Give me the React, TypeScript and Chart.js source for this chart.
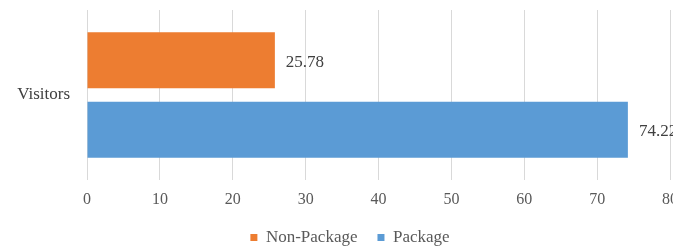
import React, { useEffect, useRef } from "react";
import { Chart, registerables } from "chart.js";

Chart.register(...registerables);

const categories = ["Visitors"];
const nonPackageValues = [25.78];
const packageValues = [74.22];
const seriesNames = ["Non-Package", "Package"];
const xMin = 0;
const xMax = 80;
const xStep = 10;

const FONT = "'Liberation Serif', 'Times New Roman', Times, serif";

const valueLabelPlugin = {
  id: "valueLabels",
  afterDatasetsDraw(chart: any) {
    const ctx = chart.ctx;
    ctx.save();
    ctx.font = "17px " + FONT;
    ctx.fillStyle = "#404040";
    ctx.textAlign = "left";
    ctx.textBaseline = "middle";
    chart.data.datasets.forEach((ds: any, di: number) => {
      const meta = chart.getDatasetMeta(di);
      meta.data.forEach((el: any, i: number) => {
        const v = ds.data[i];
        ctx.fillText(v.toFixed(2), el.x + 11, el.y + 2);
      });
    });
    ctx.restore();
  },
};

export default function App() {
  const ref = useRef<HTMLCanvasElement>(null);
  useEffect(() => {
    if (!ref.current) return;
    Chart.defaults.font.family = FONT;
    Chart.defaults.font.size = 16;
    Chart.defaults.color = "#595959";
    const chart = new Chart(ref.current, {
      type: "bar",
      data: {
        labels: categories,
        datasets: [
          {
            label: seriesNames[0],
            data: nonPackageValues,
            backgroundColor: "#ED7D31",
            categoryPercentage: 0.818,
            barPercentage: 0.806,
          },
          {
            label: seriesNames[1],
            data: packageValues,
            backgroundColor: "#5B9BD5",
            categoryPercentage: 0.818,
            barPercentage: 0.806,
          },
        ],
      },
      options: {
        indexAxis: "y",
        responsive: false,
        animation: false,
        layout: { padding: { top: 10, right: 0, left: 0, bottom: 0 } },
        scales: {
          x: {
            min: xMin,
            max: xMax,
            ticks: { stepSize: xStep, padding: 10, color: "#595959", font: { size: 16 } },
            grid: { color: "#d9d9d9", drawTicks: false },
            border: { display: false },
            afterFit: (s: any) => {
              s.height = 29;
              s.paddingRight = 30;
              s.paddingLeft = 0;
            },
          },
          y: {
            ticks: { padding: 17, color: "#404040", font: { size: 17 } },
            grid: { display: false, drawTicks: false },
            border: { display: false },
            afterFit: (s: any) => {
              s.width = 87;
              s.paddingTop = 0;
              s.paddingBottom = 0;
            },
          },
        },
        plugins: {
          legend: {
            position: "bottom",
            labels: { boxWidth: 7, boxHeight: 7, padding: 20, color: "#595959", font: { size: 17 } },
          },
          tooltip: { enabled: false },
        },
      },
      plugins: [valueLabelPlugin],
    });
    let alive = true;
    if ((document as any).fonts && (document as any).fonts.load) {
      (document as any).fonts
        .load("16px 'Liberation Serif'")
        .then(() => {
          if (alive) chart.update();
        })
        .catch(() => {});
    }
    return () => {
      alive = false;
      chart.destroy();
    };
  }, []);
  return (
    <div
      style={{
        position: "fixed",
        left: 0,
        top: 0,
        width: 673,
        height: 248,
        overflow: "hidden",
        background: "#fff",
      }}
    >
      <span style={{ fontFamily: FONT, position: "absolute", left: -9999, top: 0 }}>Visitors</span>
      <canvas ref={ref} width={700} height={256} style={{ width: 700, height: 256, display: "block" }} />
    </div>
  );
}
